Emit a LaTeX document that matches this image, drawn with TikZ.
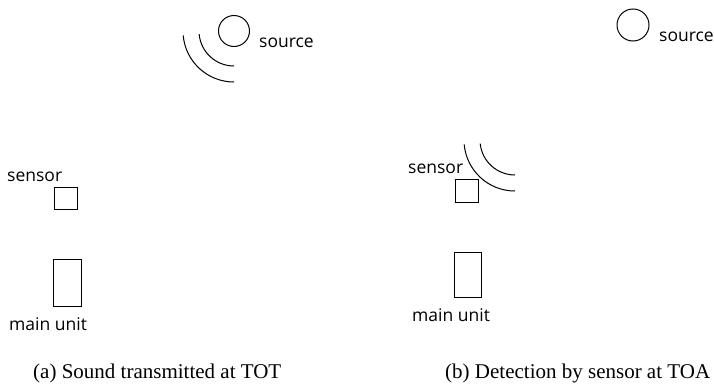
\documentclass[tikz,border=0pt]{standalone}
\usepackage{fontspec}
\setmainfont{Liberation Serif}
\newfontfamily\labelfont{Open Sans}
\usetikzlibrary{positioning}
\begin{document}
\begin{tikzpicture}[x=1pt,y=-1pt,
  lbl/.style={font=\labelfont\fontsize{17.5}{20}\selectfont, inner sep=0pt, anchor=base west},
  caption/.style={font=\fontsize{21}{24}\selectfont, inner sep=0pt, anchor=base west},
  part/.style={draw, line width=1pt, inner sep=0pt},
  wave/.style={line width=1pt}]
  \useasboundingbox (0,0) rectangle (714,383);
  % (a) sound transmitted
  \node[part, circle, minimum size=31pt] (srcA) at (234,31) {};
  \node[lbl] (srcAlbl) at (259,47) {source};
  \draw[wave] (srcA.center) ++(185:35pt) arc[start angle=185, end angle=270, radius=35pt];
  \draw[wave] (srcA.center) ++(185:51pt) arc[start angle=185, end angle=270, radius=51pt];
  \node[part, minimum width=23pt, minimum height=22pt] (sensA) at (66,198) {};
  \node[lbl] (sensAlbl) at (7,181) {sensor};
  \node[part, minimum width=28pt, minimum height=47pt] (mainA) at (67,282.5) {};
  \node[lbl] (mainAlbl) at (9,330) {main unit};
  \node[caption] (capA) at (33,378) {(a) Sound transmitted at TOT};
  % (b) detection at sensor
  \node[part, circle, minimum size=32pt] (srcB) at (633,25) {};
  \node[lbl] (srcBlbl) at (659,41) {source};
  \coordinate (waveB) at (515,140);
  \draw[wave] (waveB) ++(186:35pt) arc[start angle=186, end angle=270, radius=35pt];
  \draw[wave] (waveB) ++(185:51pt) arc[start angle=185, end angle=270, radius=51pt];
  \node[part, minimum width=23pt, minimum height=23pt] (sensB) at (466.5,190.5) {};
  \node[lbl] (sensBlbl) at (408,173) {sensor};
  \node[part, minimum width=27pt, minimum height=45pt] (mainB) at (467.5,274.5) {};
  \node[lbl] (mainBlbl) at (412,321) {main unit};
  \node[caption] (capB) at (445,378) {(b) Detection by sensor at TOA};
\end{tikzpicture}
\end{document}
